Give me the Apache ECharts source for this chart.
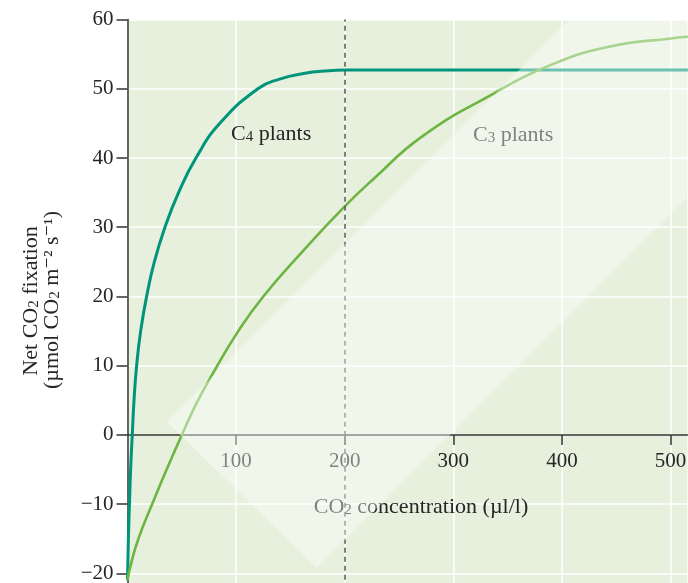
<!DOCTYPE html>
<html>
<head>
<meta charset="utf-8">
<script src="https://cdn.jsdelivr.net/npm/echarts@6/dist/echarts.min.js"></script>
<style>
  html, body { margin: 0; padding: 0; background: #fff; }
  #chart { width: 688px; height: 583px; }
</style>
</head>
<body>
<div id="chart"></div>
<script>
// CO2 concentration (µl/l) vs net CO2 fixation
var c4Conc = [0, 0.8, 1.9, 3, 4.4, 6, 8.4, 12.1, 17.6, 24.7, 34.5, 47, 63, 85, 120, 140, 162, 185, 200, 300, 516];
var c4Fix  = [-21, -15, -9.5, -4.5, 0, 5, 10, 15, 20, 25, 30, 35, 40, 45, 50, 51.4, 52.2, 52.6, 52.7, 52.7, 52.7];

var c3Conc = [0, 2.3, 10, 24, 36, 50, 63.6, 79, 102, 125, 160, 200, 226, 272, 337, 386, 441, 502, 516];
var c3Fix  = [-21, -19.2, -15, -9.5, -5, 0, 4.6, 9, 15, 20, 26.3, 33, 36.9, 43.2, 49.3, 53.2, 56.0, 57.3, 57.5];

var xRange = [0, 516];
var yRange = [-30, 60];
var markConc = 200;

var serif = '"Liberation Serif", "DejaVu Serif", serif';
var ink = '#262626';

// plot box: top edge, and how far the y range runs past the bottom of the canvas
var W = 688, H = 583;
var gridTop = 19.5, gridBottom = -59.7;
var gridBottomY = H - gridBottom;
var zeroY = gridTop + (gridBottomY - gridTop) * (yRange[1] - 0) / (yRange[1] - yRange[0]);

function pairs(xs, ys) {
  return xs.map(function (x, i) { return [x, ys[i]]; });
}

// rich text pieces: normal and subscript
function richStyle(size) {
  return {
    n: { fontSize: size, fontFamily: serif, fill: ink, lineHeight: 26, verticalAlign: 'bottom' },
    s: { fontSize: 15, fontFamily: serif, fill: ink, lineHeight: 15, verticalAlign: 'bottom' }
  };
}

function label(text, x, y, align, rot) {
  return {
    type: 'text',
    x: x, y: y,
    rotation: rot || 0,
    z: 5,
    style: {
      text: text,
      rich: richStyle(22),
      textAlign: align,
      textVerticalAlign: 'middle'
    }
  };
}

var myChart = echarts.init(document.getElementById('chart'));

var option = {
  animation: false,
  grid: {
    left: 127.5, right: 0, top: gridTop, bottom: gridBottom,
    outerBoundsMode: 'none',
    containLabel: false,
    show: true, backgroundColor: '#e7efdd', borderWidth: 0
  },
  xAxis: {
    type: 'value',
    position: 'bottom',
    offset: -(gridBottomY - zeroY),
    min: xRange[0], max: xRange[1], interval: 100,
    axisLine: { onZero: false, lineStyle: { color: '#333', width: 1.5 } },
    axisTick: { show: true, length: 10, lineStyle: { color: '#333', width: 1.5 } },
    axisLabel: {
      showMinLabel: false, margin: 16,
      fontFamily: serif, fontSize: 21, color: ink
    },
    splitLine: { show: true, lineStyle: { color: '#fff', width: 1.5 } }
  },
  yAxis: {
    type: 'value',
    min: yRange[0], max: yRange[1], interval: 10,
    axisLine: { show: true, onZero: false, lineStyle: { color: '#333', width: 1.5 } },
    axisTick: { show: true, length: 11, lineStyle: { color: '#333', width: 1.5 } },
    axisLabel: {
      margin: 14, fontFamily: serif, fontSize: 21, color: ink,
      formatter: function (v) { return String(v).replace('-', '\u2212'); }
    },
    splitLine: { show: true, lineStyle: { color: '#fff', width: 1.5 } }
  },
  series: [
    {
      name: 'C4 plants',
      type: 'line',
      data: pairs(c4Conc, c4Fix),
      smooth: 0.5,
      showSymbol: false,
      lineStyle: { color: '#00957a', width: 3 },
      z: 3,
      markLine: {
        silent: true,
        symbol: 'none',
        label: { show: false },
        lineStyle: { color: '#555', width: 1.5, type: [5, 4] },
        data: [{ xAxis: markConc }]
      }
    },
    {
      name: 'C3 plants',
      type: 'line',
      data: pairs(c3Conc, c3Fix),
      smooth: 0.5,
      showSymbol: false,
      lineStyle: { color: '#6cb540', width: 2.6 },
      z: 4
    }
  ],
  graphic: [
    label('{n|Net CO}{s|2}{n| fixation}', 29, 301, 'center', Math.PI / 2),
    label('{n|(\u00b5mol CO}{s|2}{n| m\u207b\u00b2 s\u207b\u00b9)}', 50, 300, 'center', Math.PI / 2),
    label('{n|CO}{s|2}{n| concentration (\u00b5l/l)}', 421, 505, 'center'),
    label('{n|C}{s|4}{n| plants}', 231, 132, 'left'),
    label('{n|C}{s|3}{n| plants}', 473, 133, 'left'),
    {
      // pale diagonal band laid over the picture
      type: 'polygon',
      z: 50,
      silent: true,
      shape: { points: [[167, 422], [317, 568], [935, -50], [639, -50]] },
      style: { fill: 'rgba(255,255,255,0.42)' }
    }
  ]
};

myChart.setOption(option);
</script>
</body>
</html>
